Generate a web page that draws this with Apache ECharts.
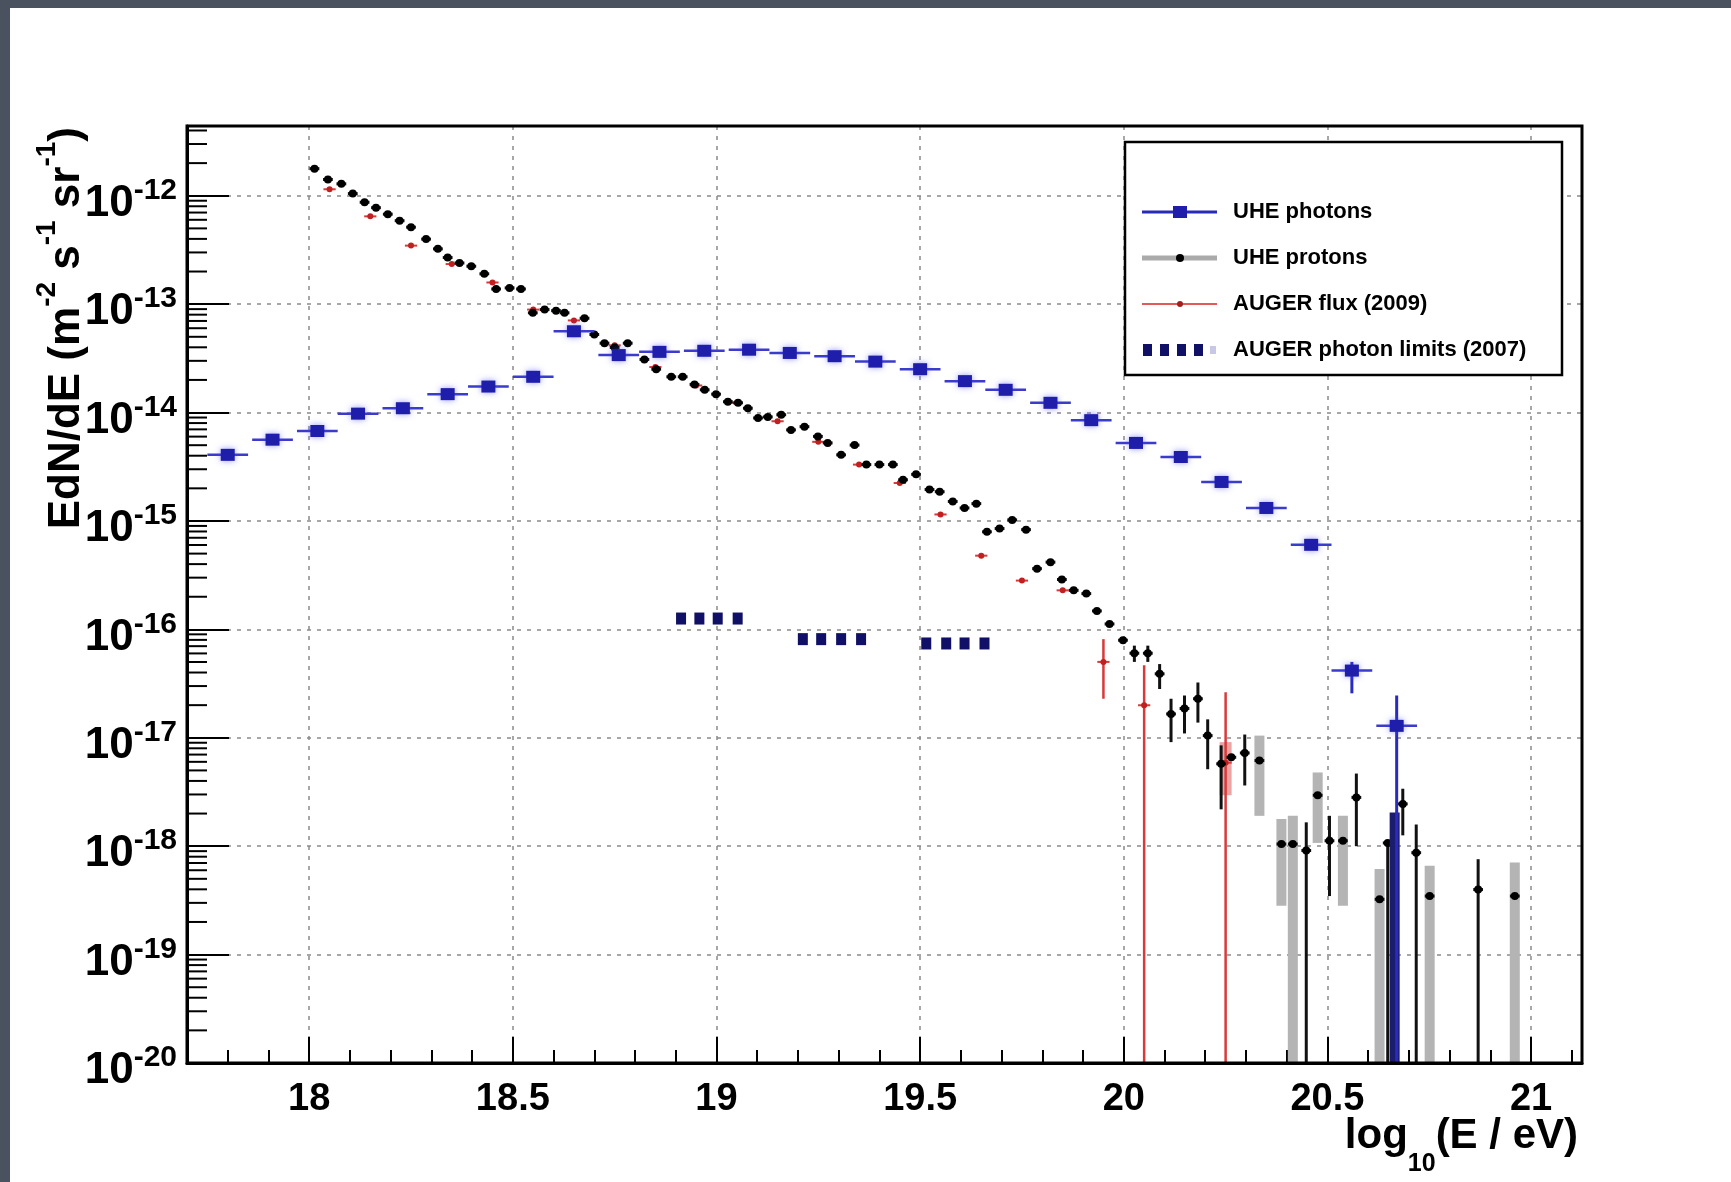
<!DOCTYPE html>
<html><head><meta charset="utf-8">
<script src="https://cdn.jsdelivr.net/npm/echarts@6/dist/echarts.min.js"></script>
<style>
html,body{margin:0;padding:0;width:1731px;height:1182px;overflow:hidden;background:#4a5260;}
#panel{position:absolute;left:10px;top:8px;right:0;bottom:0;background:#fff;}
#chart{position:absolute;left:0;top:0;width:1731px;height:1182px;}
</style></head><body>
<div id="panel"></div><div id="chart"></div>
<script>
// ---------- DATA: x = log10(E/eV), y = log10(EdN/dE / m^-2 s^-1 sr^-1) ----------
const xTickLabels = [18, 18.5, 19, 19.5, 20, 20.5, 21];
const seriesNames = ['UHE photons', 'UHE protons', 'AUGER flux (2009)', 'AUGER photon limits (2007)'];

// UHE photons
const photonLogE = [17.80, 17.91, 18.02, 18.12, 18.23, 18.34, 18.44, 18.55, 18.65, 18.76,
  18.86, 18.97, 19.08, 19.18, 19.29, 19.39, 19.50, 19.61, 19.71, 19.82,
  19.92, 20.03, 20.14, 20.24, 20.35, 20.46, 20.56, 20.67];
const photonLogFlux = [-14.39, -14.25, -14.17, -14.01, -13.96, -13.83, -13.76, -13.67, -13.25, -13.47,
  -13.44, -13.43, -13.42, -13.45, -13.48, -13.53, -13.60, -13.71, -13.79, -13.91,
  -14.07, -14.28, -14.41, -14.64, -14.88, -15.22, -16.38, -16.89];
const photonHalfBin = 0.05;
const photonErrLogE = [20.56, 20.67];
const photonErrLo = [-16.59, -20];
const photonErrHi = [-16.30, -16.61];
const photonBandLogE = [20.665];
const photonBandLo = [-20];
const photonBandHi = [-17.69];

// UHE protons
const protonLogE = [18.013, 18.046, 18.079, 18.107, 18.136, 18.164, 18.193, 18.222, 18.250, 18.287,
  18.316, 18.340, 18.369, 18.398, 18.430, 18.459, 18.492, 18.520, 18.549, 18.578,
  18.606, 18.627, 18.676, 18.700, 18.725, 18.750, 18.782, 18.823, 18.852, 18.889,
  18.917, 18.946, 18.971, 18.999, 19.028, 19.053, 19.077, 19.102, 19.126, 19.159,
  19.183, 19.216, 19.249, 19.273, 19.306, 19.339, 19.368, 19.400, 19.433, 19.458,
  19.490, 19.523, 19.548, 19.580, 19.609, 19.638, 19.664, 19.695, 19.726, 19.760,
  19.787, 19.820, 19.848, 19.877, 19.908, 19.934, 19.965, 19.998, 20.026, 20.059,
  20.088, 20.116, 20.149, 20.182, 20.206, 20.239, 20.264, 20.297, 20.333, 20.387,
  20.415, 20.448, 20.476, 20.505, 20.538, 20.571, 20.628, 20.648, 20.685, 20.718,
  20.751, 20.870, 20.960];
const protonLogFlux = [-11.75, -11.85, -11.89, -11.98, -12.06, -12.11, -12.17, -12.23, -12.29, -12.40,
  -12.49, -12.57, -12.62, -12.65, -12.72, -12.86, -12.85, -12.86, -13.08, -13.05,
  -13.06, -13.08, -13.13, -13.28, -13.36, -13.40, -13.36, -13.51, -13.60, -13.67,
  -13.67, -13.74, -13.79, -13.83, -13.90, -13.91, -13.96, -14.05, -14.04, -14.02,
  -14.16, -14.13, -14.22, -14.28, -14.39, -14.30, -14.48, -14.48, -14.48, -14.62,
  -14.57, -14.71, -14.73, -14.82, -14.88, -14.84, -15.10, -15.07, -14.99, -15.08,
  -15.44, -15.38, -15.54, -15.64, -15.67, -15.83, -15.95, -16.10, -16.22, -16.22,
  -16.41, -16.78, -16.73, -16.64, -16.98, -17.24, -17.18, -17.14, -17.21, -17.98,
  -17.98, -18.04, -17.53, -17.95, -17.95, -17.55, -18.49, -17.97, -17.61, -18.06,
  -18.46, -18.40, -18.46];
const protonHalfBin = 0.012;
const protonErrLogE = [20.026, 20.059, 20.088, 20.116, 20.149, 20.182, 20.206, 20.239, 20.297, 20.448, 20.505, 20.571, 20.648, 20.685, 20.718, 20.870];
const protonErrLo = [-16.30, -16.30, -16.55, -17.04, -16.96, -16.86, -17.29, -17.66, -17.44, -20, -18.46, -18.00, -20, -17.90, -20, -20];
const protonErrHi = [-16.15, -16.15, -16.32, -16.64, -16.61, -16.49, -16.83, -17.07, -16.97, -17.78, -17.72, -17.33, -17.97, -17.47, -17.80, -18.12];
const protonSysLogE = [20.333, 20.387, 20.415, 20.476, 20.538, 20.628, 20.751, 20.960];
const protonSysLo = [-17.72, -18.55, -20, -17.97, -18.55, -20, -20, -20];
const protonSysHi = [-16.98, -17.75, -17.72, -17.32, -17.72, -18.21, -18.18, -18.15];

// AUGER flux (2009)
const augerLogE = [18.05, 18.15, 18.25, 18.35, 18.45, 18.55, 18.65, 18.75, 18.85, 18.95, 19.05,
  19.15, 19.25, 19.35, 19.45, 19.55, 19.65, 19.75, 19.85, 19.95, 20.05, 20.25];
const augerLogFlux = [-11.94, -12.19, -12.46, -12.63, -12.80, -13.05, -13.15, -13.38, -13.58, -13.75, -13.91,
  -14.08, -14.27, -14.48, -14.65, -14.94, -15.32, -15.55, -15.64, -16.30, -16.70, -17.23];
const augerHalfBin = 0.015;
const augerErrLogE = [19.95, 20.05, 20.25];
const augerErrLo = [-16.64, -20, -20];
const augerErrHi = [-16.09, -16.33, -16.58];
const augerSysLogE = [20.25];
const augerSysLo = [-17.53];
const augerSysHi = [-17.04];

// AUGER photon limits (2007)
const limitLogE = [18.913, 18.958, 19.003, 19.052, 19.212, 19.257, 19.306, 19.355, 19.515, 19.564, 19.609, 19.658];
const limitLogFlux = [-15.90, -15.90, -15.90, -15.90, -16.09, -16.09, -16.09, -16.09, -16.13, -16.13, -16.13, -16.13];

// ---------- helpers ----------
const FONT = 'Liberation Sans, Arial, Helvetica, sans-serif';
const P = v => Math.pow(10, v);
const X_MIN = 17.7, X_MAX = 21.125, Y_MIN = 1e-20, Y_MAX = 4.4e-12;

const pts = (xs, ys) => xs.map((x, i) => [x, P(ys[i])]);
const hbars = (xs, ys, h) => xs.map((x, i) => [x, P(ys[i]), h]);
const vbars = (xs, lo, hi) => xs.map((x, i) => [x, P(lo[i]), P(hi[i])]);

function hBar(name, data, color, width, z) {
  return { type: 'custom', name, data, z, silent: true, clip: true, encode: { x: 0, y: 1 },
    renderItem: (params, api) => {
      const x = api.value(0), y = api.value(1), h = api.value(2);
      const a = api.coord([x - h, y]), b = api.coord([x + h, y]);
      return { type: 'line', shape: { x1: a[0], y1: a[1], x2: b[0], y2: b[1] }, style: { stroke: color, lineWidth: width } };
    } };
}
function vBar(name, data, color, width, z) {
  return { type: 'custom', name, data, z, silent: true, clip: true, encode: { x: 0, y: 1 },
    renderItem: (params, api) => {
      const x = api.value(0);
      const a = api.coord([x, api.value(1)]), b = api.coord([x, api.value(2)]);
      return { type: 'line', shape: { x1: a[0], y1: a[1], x2: b[0], y2: b[1] }, style: { stroke: color, lineWidth: width } };
    } };
}

// axis decorations (minor ticks)
const xMinorTicks = [];
for (let k = 177; k <= 211; k++) if (k % 5 !== 0) xMinorTicks.push(k / 10);
const yMinorTicks = [];
for (let e = -20; e <= -12; e++) for (let m = 2; m <= 9; m++) { const v = m * Math.pow(10, e); if (v < Y_MAX) yMinorTicks.push([X_MIN, v]); }

const gridStyle = { color: '#8a8a8a', width: 1.5, type: [4, 6] };
const GRID = { left: 187, right: 149, top: 126, bottom: 119 };

const chart = echarts.init(document.getElementById('chart'), null, { renderer: 'canvas' });
const legendRows = [212, 258, 304, 350];

chart.setOption({
  animation: false,
  backgroundColor: 'transparent',
  grid: Object.assign({ show: false }, GRID),
  xAxis: [{
    type: 'value', min: X_MIN, max: X_MAX, position: 'bottom',
    axisLine: { show: true, onZero: false, lineStyle: { color: '#000', width: 3 } },
    axisTick: { show: true, inside: true, length: 26, customValues: xTickLabels, lineStyle: { color: '#000', width: 2 } },
    axisLabel: { customValues: xTickLabels, margin: 18, color: '#000', fontSize: 38, fontWeight: 'bold', fontFamily: FONT },
    splitLine: { show: true, lineStyle: gridStyle }
  }, {
    type: 'value', min: X_MIN, max: X_MAX, position: 'bottom',
    axisLine: { show: false },
    axisTick: { show: true, inside: true, length: 13, customValues: xMinorTicks, lineStyle: { color: '#000', width: 2 } },
    axisLabel: { show: false }, splitLine: { show: false }
  }],
  yAxis: [{
    type: 'log', logBase: 10, min: Y_MIN, max: Y_MAX, splitNumber: 10,
    axisLine: { show: true, onZero: false, lineStyle: { color: '#000', width: 3 } },
    axisTick: { show: true, inside: true, length: 42, lineStyle: { color: '#000', width: 2 } },
    axisLabel: {
      margin: 10, showMaxLabel: false, color: '#000',
      formatter: v => '{b|10}{s|' + Math.round(Math.log10(v)) + '}',
      rich: {
        b: { fontSize: 44, fontWeight: 'bold', fontFamily: FONT, color: '#000', padding: [16, 0, 0, 0] },
        s: { fontSize: 30, fontWeight: 'bold', fontFamily: FONT, color: '#000', verticalAlign: 'top', padding: [10, 0, 0, 0] }
      }
    },
    splitLine: { show: true, lineStyle: gridStyle }
  }],
  series: [
    // y minor ticks
    { type: 'custom', data: yMinorTicks, z: 20, silent: true, encode: { x: 0, y: 1 },
      renderItem: (params, api) => {
        const p = api.coord([api.value(0), api.value(1)]);
        return { type: 'line', shape: { x1: p[0], y1: p[1], x2: p[0] + 20, y2: p[1] }, style: { stroke: '#000', lineWidth: 2 } };
      } },
    // AUGER flux (2009)
    vBar(seriesNames[2], vbars(augerSysLogE, augerSysLo, augerSysHi), '#eaa4a4', 12, 2),
    vBar(seriesNames[2], vbars(augerErrLogE, augerErrLo, augerErrHi), '#d83a3a', 2.5, 3),
    hBar(seriesNames[2], hbars(augerLogE, augerLogFlux, augerHalfBin), '#d83a3a', 2, 3),
    { type: 'scatter', name: seriesNames[2], data: pts(augerLogE, augerLogFlux), symbol: 'circle', symbolSize: 6, z: 3,
      itemStyle: { color: '#c02020', opacity: 1 } },
    // UHE protons
    vBar(seriesNames[1], vbars(protonSysLogE, protonSysLo, protonSysHi), '#b4b4b4', 10, 4),
    vBar(seriesNames[1], vbars(protonErrLogE, protonErrLo, protonErrHi), '#111', 3, 5),
    hBar(seriesNames[1], hbars(protonLogE, protonLogFlux, protonHalfBin), '#111', 3, 5),
    { type: 'scatter', name: seriesNames[1], data: pts(protonLogE, protonLogFlux), symbol: 'circle', symbolSize: 8, z: 5,
      itemStyle: { color: '#000', opacity: 1 } },
    // UHE photons
    vBar(seriesNames[0], vbars(photonBandLogE, photonBandLo, photonBandHi), '#1c1c6e', 10, 6),
    vBar(seriesNames[0], vbars(photonErrLogE, photonErrLo, photonErrHi), '#2a2ac0', 3, 6),
    hBar(seriesNames[0], hbars(photonLogE, photonLogFlux, photonHalfBin), '#3b3bcc', 2.5, 6),
    { type: 'scatter', name: seriesNames[0], data: pts(photonLogE, photonLogFlux), symbol: 'rect', symbolSize: [14, 12], z: 7,
      itemStyle: { color: '#1e1eaa', opacity: 1, shadowBlur: 6, shadowColor: 'rgba(70,70,255,0.55)' } },
    // AUGER photon limits (2007)
    { type: 'scatter', name: seriesNames[3], data: pts(limitLogE, limitLogFlux), symbol: 'rect', symbolSize: [10, 12], z: 7,
      itemStyle: { color: '#101066', opacity: 1 } }
  ],
  graphic: [
    // plot frame
    { type: 'rect', z: 90, silent: true, shape: { x: GRID.left, y: GRID.top, width: 1731 - GRID.left - GRID.right, height: 1182 - GRID.top - GRID.bottom },
      style: { fill: 'none', stroke: '#000', lineWidth: 3 } },
    // axis titles
    { type: 'text', x: 61, y: 127, rotation: Math.PI / 2, z: 100,
      style: { text: '{m|EdN/dE (m}{s|-2}{m| s}{s|-1}{m| sr}{s|-1}{m|)}', align: 'right', verticalAlign: 'middle', textAlign: 'right', textVerticalAlign: 'middle',
        rich: { m: { fontSize: 44, fontWeight: 'bold', fontFamily: FONT, fill: '#000', color: '#000', padding: [12, 0, 0, 0] },
                s: { fontSize: 28, fontWeight: 'bold', fontFamily: FONT, fill: '#000', color: '#000', verticalAlign: 'top' } } } },
    { type: 'text', x: 1578, y: 1146, z: 100,
      style: { text: '{m|log}{d|10}{m|(E / eV)}', align: 'right', verticalAlign: 'middle', textAlign: 'right', textVerticalAlign: 'middle',
        rich: { m: { fontSize: 42, fontWeight: 'bold', fontFamily: FONT, fill: '#000', color: '#000', verticalAlign: 'top' },
                d: { fontSize: 25, fontWeight: 'bold', fontFamily: FONT, fill: '#000', color: '#000', verticalAlign: 'bottom', padding: [36, 0, 0, 0] } } } },
    // legend box
    { type: 'rect', z: 100, shape: { x: 1125, y: 142, width: 437, height: 233 }, style: { fill: '#fff', stroke: '#000', lineWidth: 2.5 } },
    // legend symbols
    { type: 'line', z: 101, shape: { x1: 1142, y1: legendRows[0], x2: 1217, y2: legendRows[0] }, style: { stroke: '#2a2ab8', lineWidth: 3 } },
    { type: 'rect', z: 102, shape: { x: 1173, y: legendRows[0] - 6, width: 14, height: 12 }, style: { fill: '#1e1eaa' } },
    { type: 'line', z: 101, shape: { x1: 1142, y1: legendRows[1], x2: 1217, y2: legendRows[1] }, style: { stroke: '#aaaaaa', lineWidth: 5 } },
    { type: 'circle', z: 102, shape: { cx: 1180, cy: legendRows[1], r: 4 }, style: { fill: '#000' } },
    { type: 'line', z: 101, shape: { x1: 1142, y1: legendRows[2], x2: 1217, y2: legendRows[2] }, style: { stroke: '#e05a5a', lineWidth: 2 } },
    { type: 'circle', z: 102, shape: { cx: 1180, cy: legendRows[2], r: 3 }, style: { fill: '#a02020' } },
    { type: 'rect', z: 102, shape: { x: 1143, y: legendRows[3] - 6, width: 9, height: 12 }, style: { fill: '#101066' } },
    { type: 'rect', z: 102, shape: { x: 1160, y: legendRows[3] - 6, width: 9, height: 12 }, style: { fill: '#101066' } },
    { type: 'rect', z: 102, shape: { x: 1177, y: legendRows[3] - 6, width: 9, height: 12 }, style: { fill: '#101066' } },
    { type: 'rect', z: 102, shape: { x: 1194, y: legendRows[3] - 6, width: 9, height: 12 }, style: { fill: '#101066' } },
    { type: 'rect', z: 102, shape: { x: 1210, y: legendRows[3] - 4, width: 6, height: 8 }, style: { fill: '#c8c8e6' } }
  ].concat(seriesNames.map((n, i) => ({
    type: 'text', z: 102, x: 1233, y: legendRows[i],
    style: { text: n, fontSize: 22, fontWeight: 'bold', fontFamily: FONT, fill: '#000', align: 'left', verticalAlign: 'middle', textAlign: 'left', textVerticalAlign: 'middle' }
  })))
});
</script>
</body></html>
